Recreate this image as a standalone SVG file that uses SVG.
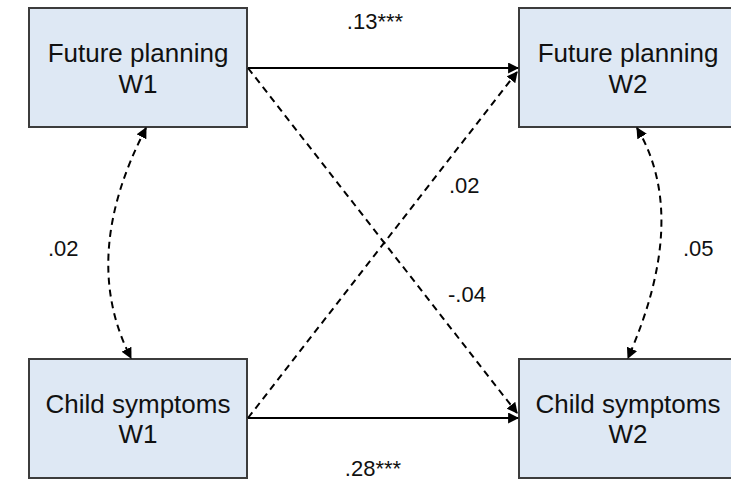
<svg xmlns="http://www.w3.org/2000/svg" width="731" height="480" viewBox="0 0 731 480">
<style>
.box{fill:#dee8f4;stroke:#3c3c3c;stroke-width:2}
.t{font-family:"Liberation Sans",Arial,sans-serif;font-size:26px;fill:#111;text-anchor:middle}
.lb{font-family:"Liberation Sans",Arial,sans-serif;font-size:22px;fill:#111}
.m{text-anchor:middle}
.c{fill:none;stroke:#000;stroke-width:2}
.d{stroke-dasharray:7 5}
</style>
<defs>
<marker id="ah" viewBox="0 0 10 10" refX="9" refY="5" markerWidth="5.5" markerHeight="5.5" orient="auto-start-reverse" markerUnits="strokeWidth">
<path d="M0,0 L10,5 L0,10 z" fill="#000"/>
</marker>
</defs>
<rect x="0" y="0" width="731" height="480" fill="#fff"/>
<g id="fp1"><rect class="box" x="29" y="8" width="218" height="119"/><text class="t" x="138" y="62">Future planning</text><text class="t" x="138" y="93">W1</text></g>
<g id="fp2"><rect class="box" x="519" y="8" width="218" height="119"/><text class="t" x="628" y="62">Future planning</text><text class="t" x="628" y="93">W2</text></g>
<g id="cs1"><rect class="box" x="29" y="359" width="218" height="119"/><text class="t" x="138" y="413">Child symptoms</text><text class="t" x="138" y="443">W1</text></g>
<g id="cs2"><rect class="box" x="519" y="359" width="218" height="119"/><text class="t" x="628" y="413">Child symptoms</text><text class="t" x="628" y="443">W2</text></g>
<g id="connectors">
<line class="c" x1="248" y1="68" x2="518" y2="68" marker-end="url(#ah)"/>
<line class="c" x1="248" y1="418" x2="518" y2="418" marker-end="url(#ah)"/>
<line class="c d" x1="248" y1="68" x2="517" y2="413" marker-end="url(#ah)"/>
<line class="c d" x1="248" y1="418" x2="517" y2="72" marker-end="url(#ah)"/>
<path class="c d" d="M146,128 Q79,257 131,358" marker-start="url(#ah)" marker-end="url(#ah)"/>
<path class="c d" d="M637,128 Q690,217 628,358" marker-start="url(#ah)" marker-end="url(#ah)"/>
</g>
<g id="labels">
<text class="lb m" x="375" y="29">.13***</text>
<text class="lb m" x="373" y="476">.28***</text>
<text class="lb" x="449" y="193">.02</text>
<text class="lb" x="448" y="302">-.04</text>
<text class="lb" x="48" y="256">.02</text>
<text class="lb" x="683" y="256">.05</text>
</g>
</svg>
